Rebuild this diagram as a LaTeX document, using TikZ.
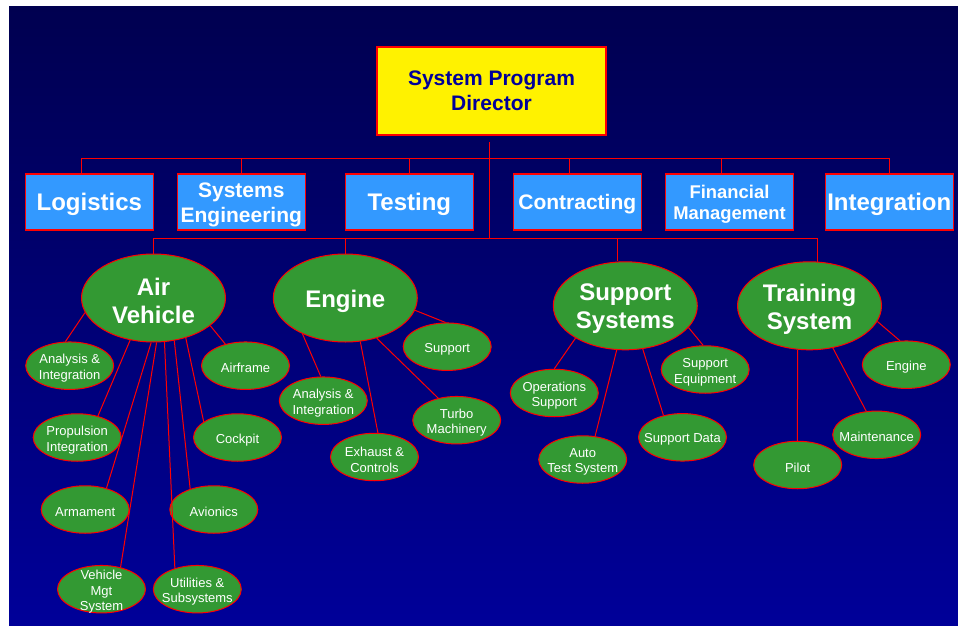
\documentclass[tikz,border=0pt]{standalone}
\usepackage{fontspec}
\setmainfont{Liberation Sans}
\usetikzlibrary{shapes.geometric}
\definecolor{bgtop}{RGB}{0,0,80}
\definecolor{bgbot}{RGB}{0,0,153}
\definecolor{boxblue}{RGB}{51,153,255}
\definecolor{leafgreen}{RGB}{51,153,51}
\definecolor{dirtext}{RGB}{0,0,153}
\begin{document}
\begin{tikzpicture}[x=1pt,y=-1pt,
  conn/.style={draw=red, line width=1pt},
  director/.style={draw=red, line width=1.3pt, fill=yellow, minimum width=229pt, minimum height=88pt, inner sep=0pt, align=center, text=dirtext, font=\fontsize{21}{25.5}\selectfont\bfseries},
  dept/.style={draw=red, line width=1.4pt, fill=boxblue, minimum width=128pt, minimum height=56pt, inner sep=0pt},
  depttext/.style={text=white, align=center, inner sep=0pt, yshift=-2.5pt, font=\fontsize{24}{28}\selectfont\bfseries},
  major/.style={ellipse, draw=red, line width=1pt, fill=leafgreen, minimum width=144pt, minimum height=88pt, inner sep=0pt},
  majortext/.style={text=white, align=center, inner sep=0pt, yshift=-3pt, font=\fontsize{24}{28}\selectfont\bfseries},
  leaf/.style={ellipse, draw=red, line width=1pt, fill=leafgreen, minimum width=88pt, minimum height=47.5pt, inner sep=0pt},
  leaftext/.style={text=white, align=center, inner sep=0pt, yshift=-2.5pt, font=\fontsize{13}{15.7}\selectfont}
]
\useasboundingbox (0,0) rectangle (958,626);
\fill[white] (0,0) rectangle (958,626);
\shade[top color=bgtop, bottom color=bgbot] (9,7) rectangle (958,626);

% director
\node[director] (dir) at (491.5,91) {System Program\\Director};

% departments
\node[dept, label={[depttext]center:Logistics}] (log) at (89.3,202) {};
\node[dept, label={[depttext, font=\fontsize{21}{25}\selectfont\bfseries]center:Systems\\Engineering}] (se) at (241.3,202) {};
\node[dept, label={[depttext]center:Testing}] (tst) at (409.3,202) {};
\node[dept, label={[depttext, font=\fontsize{21}{25}\selectfont\bfseries]center:Contracting}] (con) at (577.3,202) {};
\node[dept, label={[depttext, font=\fontsize{18.4}{21.5}\selectfont\bfseries]center:Financial\\Management}] (fin) at (729.5,202) {};
\node[dept, label={[depttext]center:Integration}] (int) at (889.3,202) {};

% major ellipses
\node[major, label={[majortext]center:Air\\Vehicle}] (av) at (153.5,298) {};
\node[major, label={[majortext]center:Engine}] (en) at (345.3,298) {};
\node[major, label={[majortext]center:Support\\Systems}] (ss) at (625.3,305.8) {};
\node[major, label={[majortext]center:Training\\System}] (ts) at (809.5,305.8) {};

% bus coordinates
\coordinate (t0) at (489.7,142);
\coordinate (b2) at (489.7,238);
\coordinate (u1) at (81.7,158);
\coordinate (u2) at (241.3,158);
\coordinate (u3) at (409.3,158);
\coordinate (u4) at (569.3,158);
\coordinate (u5) at (721.3,158);
\coordinate (u6) at (889.3,158);
\coordinate (d1) at (153.5,238);
\coordinate (d2) at (345.3,238);
\coordinate (d3) at (617.3,238);
\coordinate (d4) at (817.3,238);

\draw[conn] (t0) -- (b2);
\draw[conn] (u1) -- (u6);
\draw[conn] (u1) -- (u1 |- log.north);
\draw[conn] (u2) -- (u2 |- se.north);
\draw[conn] (u3) -- (u3 |- tst.north);
\draw[conn] (u4) -- (u4 |- con.north);
\draw[conn] (u5) -- (u5 |- fin.north);
\draw[conn] (u6) -- (u6 |- int.north);
\draw[conn] (d1) -- (d4);
\draw[conn] (d1) -- (av.north);
\draw[conn] (d2) -- (en.north);
\draw[conn] (d3) -- (d3 |- ss.north);
\draw[conn] (d4) -- ([yshift=-0.3pt]d4 |- ts.north);

% Air Vehicle leaves
\node[leaf, label={[leaftext]center:Analysis \&\\Integration}] (avai) at (69.7,365.7) {};
\node[leaf, label={[leaftext]center:Propulsion\\Integration}] (avpi) at (77.2,437.5) {};
\node[leaf, label={[leaftext]center:Armament}] (avar) at (85.2,509.5) {};
\node[leaf, label={[leaftext]center:Vehicle\\Mgt\\System}] (avvm) at (101.5,589.2) {};
\node[leaf, label={[leaftext]center:Utilities \&\\Subsystems}] (avus) at (197.3,589.2) {};
\node[leaf, label={[leaftext]center:Avionics}] (avav) at (213.8,509.5) {};
\node[leaf, label={[leaftext]center:Cockpit}] (avco) at (237.5,437.5) {};
\node[leaf, label={[leaftext]center:Airframe}] (avaf) at (245.5,365.7) {};

% Engine leaves
\node[leaf, label={[leaftext]center:Support}] (ensu) at (447.2,346.7) {};
\node[leaf, label={[leaftext]center:Analysis \&\\Integration}] (enai) at (323.3,400.7) {};
\node[leaf, label={[leaftext]center:Exhaust \&\\Controls}] (enex) at (374.5,457) {};
\node[leaf, label={[leaftext]center:Turbo\\Machinery}] (entu) at (456.7,420.2) {};

% Support Systems leaves
\node[leaf, label={[leaftext]center:Operations\\Support}] (ssop) at (554.3,393) {};
\node[leaf, label={[leaftext]center:Auto\\Test System}] (ssat) at (582.7,459.5) {};
\node[leaf, label={[leaftext]center:Support Data}] (ssda) at (682.5,437.3) {};
\node[leaf, label={[leaftext]center:Support\\Equipment}] (sseq) at (705.2,369.5) {};

% Training System leaves
\node[leaf, label={[leaftext]center:Engine}] (tsen) at (906.3,364.7) {};
\node[leaf, label={[leaftext]center:Maintenance}] (tsma) at (876.7,434.8) {};
\node[leaf, label={[leaftext]center:Pilot}] (tspi) at (797.7,465) {};

% connectors
\draw[conn] (av.192) -- (avai.100);
\draw[conn] (av.241) -- (avpi.46);
\draw[conn] (av.267) -- (avar.45);
\draw[conn] (av.274) -- (avvm.49);
\draw[conn] (av.284) -- (avus.137);
\draw[conn] (av.296) -- (avav.139);
\draw[conn] (av.309) -- (avco.155);
\draw[conn] (av.334) -- (avaf.133);

\draw[conn] (en.350) -- (ensu.94);
\draw[conn] (en.220) -- (enai.96);
\draw[conn] (en.289) -- (enex.82);
\draw[conn] (en.308) -- (entu.130);

\draw[conn] (ss.213) -- (ssop.90);
\draw[conn] (ss.259) -- (ssat.62);
\draw[conn] (ss.292) -- (ssda.131);
\draw[conn] (ss.341) -- (sseq.95);

\draw[conn] (ts.347) -- (tsen.105);
\draw[conn] (ts.299) -- (tsma.114);
\draw[conn] (ts.255) -- (tspi.91);
\end{tikzpicture}
\end{document}
